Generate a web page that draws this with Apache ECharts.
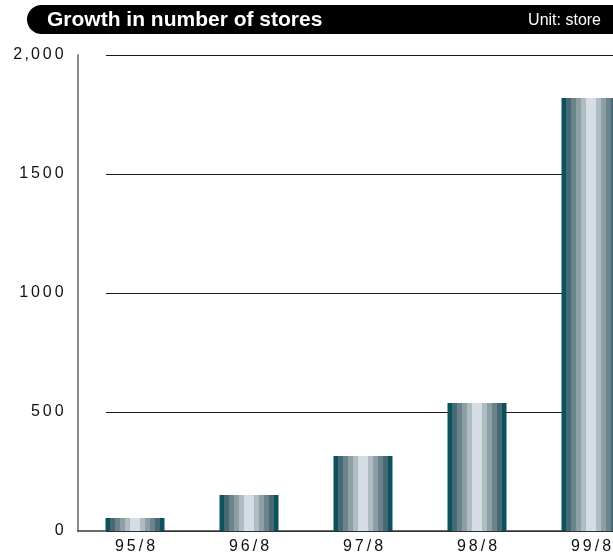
<!DOCTYPE html>
<html>
<head>
<meta charset="utf-8">
<title>Growth in number of stores</title>
<script src="https://cdn.jsdelivr.net/npm/echarts@6/dist/echarts.min.js"></script>
<style>
  html, body { margin: 0; padding: 0; background: #fff; overflow: hidden; }
  /* The plot continues past the right edge, so the last bar is cut off */
  #frame { width: 613px; height: 556px; overflow: hidden; position: relative; }
  #chart { width: 648px; height: 556px; position: absolute; left: 0; top: 0; }
</style>
</head>
<body>
<div id="frame"><div id="chart"></div></div>
<script>
// Store counts at each August fiscal checkpoint
const categories = ['95/8', '96/8', '97/8', '98/8', '99/8'];
const storeCounts = [55, 151, 315, 538, 1819];
// Y-axis tick labels, printed as in the company report
const yTickLabels = ['0', '500', '1000', '1500', '2,000'];

const FONT = "'Liberation Sans', Arial, Helvetica, sans-serif";

// Letter-spaced label: each glyph sits in its own fixed-width rich-text box
function spaced(str) {
  return str.split('').map(function (ch) {
    if (ch === ',') return '{c|,}';
    if (ch === '/') return '{s|/}';
    return '{d|' + ch + '}';
  }).join('');
}
const spacedRich = {
  d: { width: 11.8, align: 'center', fontSize: 16, fontFamily: FONT, color: '#111' },
  s: { width: 7.6, align: 'center', fontSize: 16, fontFamily: FONT, color: '#111' },
  c: { width: 6, align: 'center', fontSize: 16, fontFamily: FONT, color: '#111' }
};

// Striped cylinder-like fill: dark teal edges fading to a pale centre
const stripeColors = ['#0b525c', '#456a73', '#6b848b', '#8d9ea4', '#afbcc1', '#d3dde3'];
function stripedFill() {
  const bands = [0, 1, 2, 3, 4, 5, 5, 4, 3, 2, 1, 0];
  const stops = [];
  bands.forEach(function (b, i) {
    stops.push({ offset: i / 12, color: stripeColors[b] });
    stops.push({ offset: (i + 1) / 12, color: stripeColors[b] });
  });
  return new echarts.graphic.LinearGradient(0, 0, 1, 0, stops);
}

const chart = echarts.init(document.getElementById('chart'), null, { renderer: 'canvas' });

chart.setOption({
  animation: false,
  backgroundColor: '#ffffff',
  graphic: [
    {
      type: 'rect',
      z: 10,
      shape: { x: 27, y: 5, width: 640, height: 29, r: [14.5, 0, 0, 14.5] },
      style: { fill: '#000000' }
    },
    {
      type: 'text',
      z: 11,
      style: {
        x: 47, y: 20,
        text: 'Growth in number of stores',
        fill: '#ffffff',
        font: 'bold 21px ' + FONT,
        textVerticalAlign: 'middle', verticalAlign: 'middle'
      }
    },
    {
      type: 'text',
      z: 11,
      style: {
        x: 601, y: 21,
        text: 'Unit: store',
        fill: '#ffffff',
        font: '16px ' + FONT,
        textAlign: 'right', align: 'right',
        textVerticalAlign: 'middle', verticalAlign: 'middle'
      }
    }
  ],
  grid: [
    { left: 78, right: 0, top: 55, bottom: 25 },
    { left: 106, right: 0, top: 55, bottom: 25 }
  ],
  xAxis: [
    {
      type: 'category',
      gridIndex: 0,
      data: categories,
      axisLine: { show: true, lineStyle: { color: '#3a3a3a', width: 1.5 } },
      axisTick: { show: false },
      axisLabel: {
        interval: 0,
        margin: 8,
        formatter: function (v) { return spaced(v); },
        rich: spacedRich
      },
      z: 3
    },
    { type: 'value', gridIndex: 1, min: 0, max: 1, show: false }
  ],
  yAxis: [
    {
      type: 'value',
      gridIndex: 0,
      min: 0, max: 2000, interval: 500,
      splitLine: { show: false },
      axisTick: { show: false },
      axisLine: { show: true, lineStyle: { color: '#8a8a8a', width: 2 } },
      axisLabel: {
        margin: 13,
        formatter: function (v) { return spaced(yTickLabels[Math.round(v / 500)]); },
        rich: spacedRich
      }
    },
    {
      type: 'value',
      gridIndex: 1,
      min: 0, max: 2000, interval: 500,
      axisLine: { show: false },
      axisTick: { show: false },
      axisLabel: { show: false },
      splitLine: { show: true, lineStyle: { color: '#1a1a1a', width: 1 } }
    }
  ],
  series: [
    {
      type: 'bar',
      xAxisIndex: 0,
      yAxisIndex: 0,
      data: storeCounts,
      barWidth: 59,
      itemStyle: { color: stripedFill() },
      silent: true,
      z: 5
    }
  ]
});
</script>
</body>
</html>
